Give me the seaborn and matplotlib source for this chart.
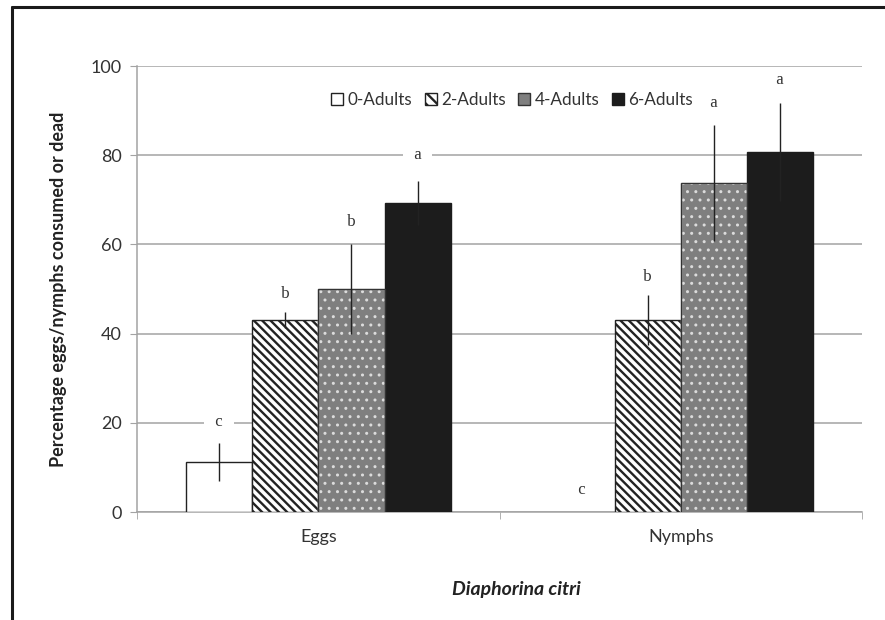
import matplotlib
matplotlib.use("Agg")
import matplotlib.pyplot as plt
import seaborn as sns
import pandas as pd
from matplotlib.patches import Rectangle, Patch
from matplotlib.lines import Line2D

# ---- data ----
stages = ["Eggs", "Nymphs"]
groups = ["0-Adults", "2-Adults", "4-Adults", "6-Adults"]
eggs_means = [11.2, 43.0, 50.0, 69.3]
eggs_err = [4.3, 1.8, 10.0, 5.0]
nymph_means = [0.0, 43.0, 73.8, 80.7]
nymph_err = [0.0, 5.6, 13.0, 11.0]
eggs_letters = ["c", "b", "b", "a"]
nymph_letters = ["c", "b", "a", "a"]
eggs_letter_y = [20.2, 49.0, 65.0, 80.0]
nymph_letter_y = [5.0, 52.7, 91.7, 96.9]
yticks = [0, 20, 40, 60, 80, 100]
ylabel = "Percentage eggs/nymphs consumed or dead"
xlabel = "Diaphorina citri"

# ---- style ----
face_colors = ["#ffffff", "#ffffff", "#7f7f7f", "#1c1c1c"]
grid_col = "#a3a3a3"
group_width = 0.73

sns.set_style("white")
plt.rcParams["font.family"] = ["Lato", "DejaVu Sans"]
plt.rcParams["hatch.linewidth"] = 1.7

rows = []
for g, v in zip(groups, eggs_means):
    rows.append(("Eggs", g, v))
for g, v in zip(groups, nymph_means):
    rows.append(("Nymphs", g, v))
df = pd.DataFrame(rows, columns=["stage", "group", "value"])

fig = plt.figure(figsize=(8.85, 6.2), dpi=100)
ax = fig.add_axes([0.155, 0.174, 0.819, 0.7195])

sns.barplot(data=df, x="stage", y="value", hue="group", order=stages,
            hue_order=groups, palette=dict(zip(groups, face_colors)),
            saturation=1, width=group_width, errorbar=None, edgecolor="#222222",
            linewidth=1.0, legend=False, ax=ax, zorder=3)

means = [eggs_means, nymph_means]
errs = [eggs_err, nymph_err]
letters = [eggs_letters, nymph_letters]
letter_y = [eggs_letter_y, nymph_letter_y]

bw = group_width / len(groups)
bar_containers = list(ax.containers)
for gi, cont in enumerate(bar_containers):
    for si, bar in enumerate(cont):
        x = si - group_width / 2 + (gi + 0.5) * bw
        if bar is not None:
            x = bar.get_x() + bar.get_width() / 2
            if bar.get_height() == 0:
                bar.set_linewidth(0)
            if gi == 1:
                bar.set_hatch("\\\\\\\\")
            if gi == 2:
                bar.set_edgecolor("#dcdcdc")
                bar.set_hatch("..")
                if hasattr(bar, "set_hatch_linewidth"):
                    bar.set_hatch_linewidth(1.0)
                ax.add_patch(Rectangle(bar.get_xy(), bar.get_width(), bar.get_height(),
                                       fill=False, edgecolor="#333333", lw=1.0, zorder=3.5))
            if gi == 3:
                bar.set_edgecolor("#1c1c1c")
        e = errs[si][gi]
        if e > 0:
            ax.errorbar([x], [means[si][gi]], yerr=[e], fmt="none", ecolor="#222222",
                        elinewidth=1.0, capsize=0, zorder=5)
        ax.text(x, letter_y[si][gi], "  " + letters[si][gi] + "  ", ha="center", va="center",
                family=["Liberation Serif", "DejaVu Serif"], fontsize=12, color="#333333",
                bbox=dict(facecolor="white", edgecolor="none", pad=2), zorder=6)

ax.set_xlim(-0.5, 1.5)
ax.set_ylim(0, 100)
ax.set_yticks(yticks)
ax.set_yticklabels([str(t) for t in yticks])
ax.set_xticks([0, 1])
ax.set_xticklabels(stages)
ax.set_xticks([-0.5, 0.5, 1.5], minor=True)
ax.set_axisbelow(True)
ax.yaxis.grid(True, color=grid_col, lw=1.1)
ax.xaxis.grid(False)
for s in ["top", "right"]:
    ax.spines[s].set_visible(False)
for s in ["left", "bottom"]:
    ax.spines[s].set_color(grid_col)
    ax.spines[s].set_linewidth(1.1)
ax.tick_params(axis="x", which="major", length=0, pad=12, labelsize=13, labelcolor="#333333")
ax.tick_params(axis="x", which="minor", length=5, color=grid_col, direction="out", bottom=True)
ax.tick_params(axis="y", length=5, color=grid_col, direction="out", left=True,
               labelsize=13, labelcolor="#333333", pad=6)

ax.set_ylabel(ylabel, fontsize=13, fontweight="bold", color="#222222")
ax.yaxis.set_label_coords(-0.097, 0.5)
ax.set_xlabel(xlabel, fontsize=14, fontweight="bold", style="italic", color="#222222")
ax.xaxis.set_label_coords(0.523, -0.155)

handles = [Patch(facecolor="white", edgecolor="#222222"),
           Patch(facecolor="white", edgecolor="#222222", hatch="\\\\\\"),
           Patch(facecolor="#7f7f7f", edgecolor="#333333"),
           Patch(facecolor="#1c1c1c", edgecolor="#1c1c1c")]
ax.legend(handles, groups, ncol=4, loc="center", bbox_to_anchor=(0.517, 0.924),
          frameon=False, handlelength=0.7, handleheight=0.7, handletextpad=0.25,
          columnspacing=0.75, fontsize=12.3, labelcolor="#333333")

fig.add_artist(Line2D([0.013, 0.013], [0.0, 0.989], transform=fig.transFigure,
                      color="#1a1a1a", lw=2.2))
fig.add_artist(Line2D([0.013, 1.0], [0.989, 0.989], transform=fig.transFigure,
                      color="#1a1a1a", lw=2.2))

fig.savefig("out.png", dpi=100)
